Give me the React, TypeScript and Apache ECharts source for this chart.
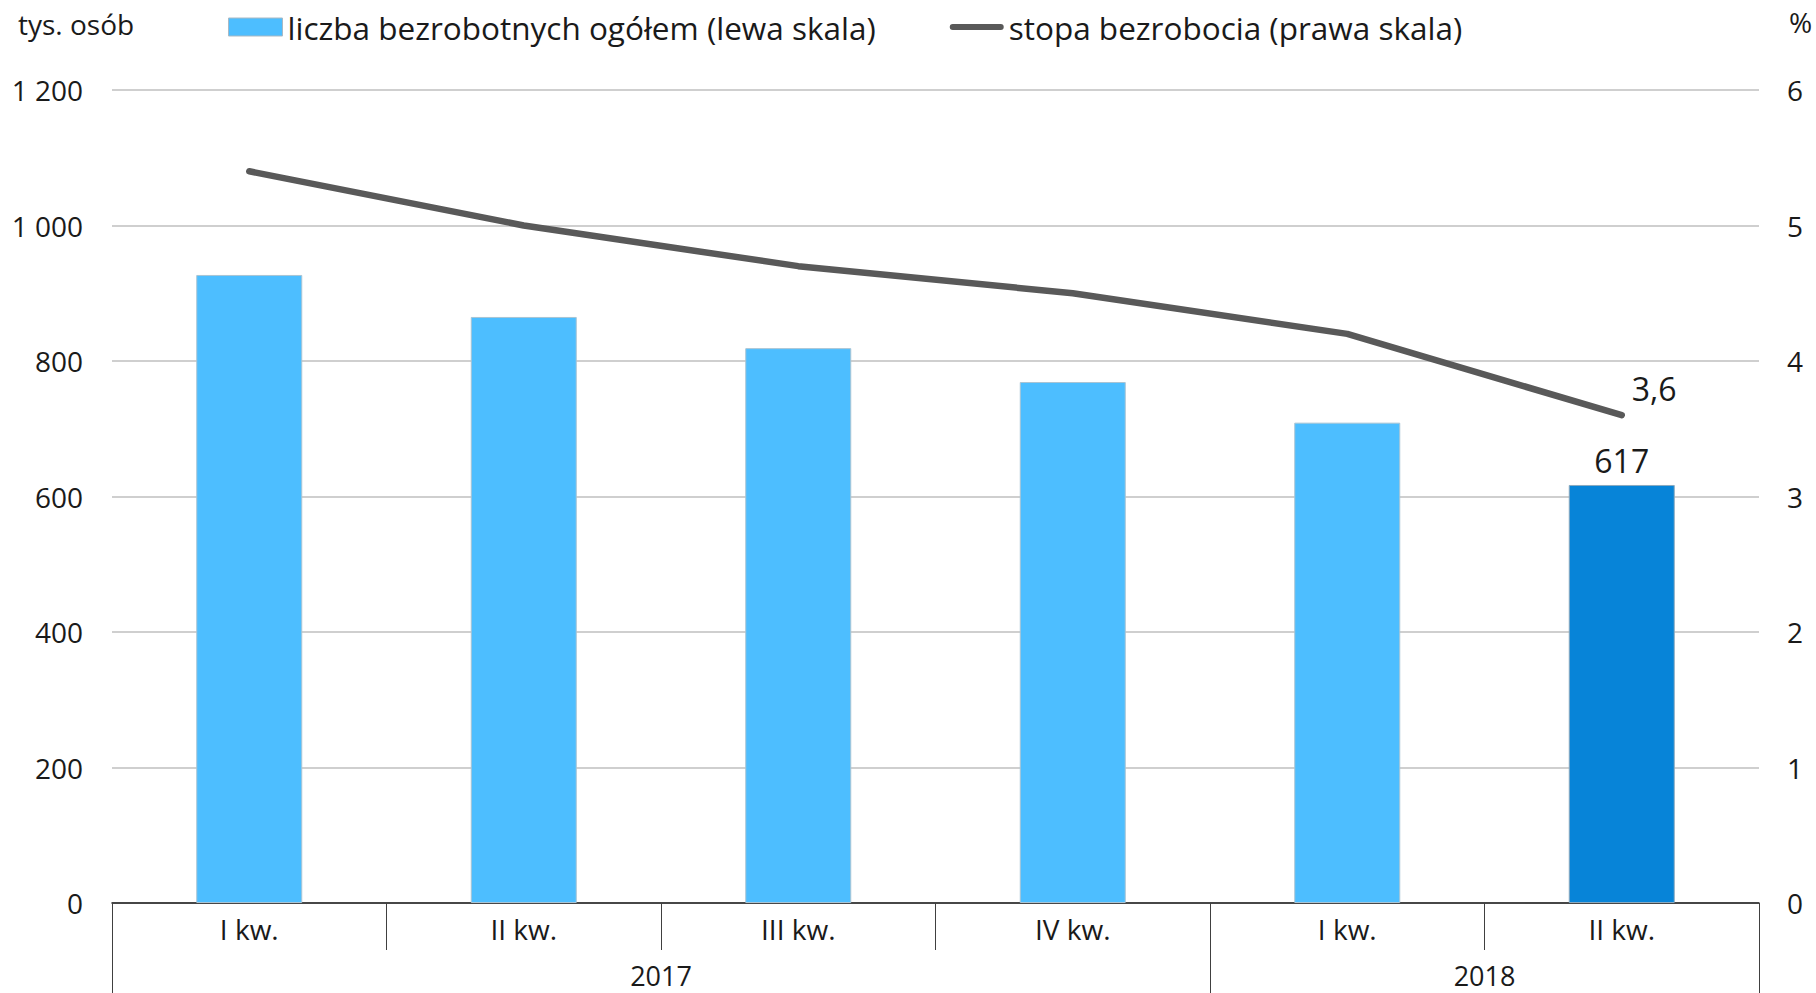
import React, { useEffect, useRef } from "react";
import * as echarts from "echarts";

const quarters = ["I kw.", "II kw.", "III kw.", "IV kw.", "I kw.", "II kw."];
const years = ["2017", "2018"];
const yearCenters = [2, 5];
const yearBounds = [0, 4, 6];
const unemployed = [927, 865, 819, 769, 709, 617];
const rate = [5.4, 5.0, 4.7, 4.5, 4.2, 3.6];
const leftTicks = { min: 0, max: 1200, interval: 200 };
const rightTicks = { min: 0, max: 6, interval: 1 };

const FONT = "'Open Sans', 'Noto Sans', sans-serif";
const TXT = "#1a1a1a";
const LINE_ICON = "path://M3,0 H51 A3,3 0 0 1 51,6 H3 A3,3 0 0 1 3,0 Z";

export default function App() {
  const ref = useRef<HTMLDivElement>(null);
  useEffect(() => {
    document.body.style.margin = "0";
    if (!ref.current) return;
    const chart = echarts.init(ref.current, null, { renderer: "svg" });
    chart.setOption({
      animation: false,
      textStyle: { fontFamily: FONT, color: TXT },
      grid: { left: 112, right: 57, top: 90, bottom: 90, containLabel: false },
      legend: {
        left: 223,
        top: 6,
        itemWidth: 54,
        itemHeight: 18,
        itemGap: 74,
        textStyle: { fontSize: 31.5, color: TXT, fontFamily: FONT },
        data: [
          { name: "liczba bezrobotnych ogółem (lewa skala)", icon: "rect", itemStyle: { borderColor: "#a9b9c4", borderWidth: 1 } },
          { name: "stopa bezrobocia (prawa skala)", icon: LINE_ICON, itemStyle: { color: "#595959", borderWidth: 0 } },
        ],
      },
      graphic: [
        { type: "text", left: 18, top: 10, style: { text: "tys. osób", fontSize: 28, fontFamily: FONT, fill: TXT } },
        { type: "text", left: 1789, top: 8, style: { text: "%", fontSize: 28, fontFamily: FONT, fill: TXT } },
      ],
      xAxis: [
        {
          type: "category",
          data: quarters,
          position: "bottom",
          axisLine: { show: true, lineStyle: { color: "#1a1a1a", width: 1.5 } },
          axisTick: { show: true, interval: 0, length: 47, lineStyle: { color: "#404040", width: 1 } },
          axisLabel: { fontSize: 28, color: TXT, margin: 12, fontFamily: FONT, interval: 0 },
          splitLine: { show: false },
        },
        {
          type: "value",
          min: 0,
          max: quarters.length,
          interval: 1,
          position: "bottom",
          axisLine: { show: false },
          axisTick: { show: true, customValues: yearBounds, length: 90, lineStyle: { color: "#404040", width: 1 } },
          axisLabel: {
            show: true,
            customValues: yearCenters,
            fontSize: 27,
            color: TXT,
            margin: 59,
            fontFamily: FONT,
            formatter: (v: number) => years[yearCenters.indexOf(v)] ?? "",
          },
          splitLine: { show: false },
        },
      ],
      yAxis: [
        {
          type: "value",
          ...leftTicks,
          axisLine: { show: false },
          axisTick: { show: false },
          axisLabel: {
            fontSize: 28,
            color: TXT,
            margin: 29,
            fontFamily: FONT,
            formatter: (v: number) => String(v).replace(/\B(?=(\d{3})+(?!\d))/g, " "),
          },
          splitLine: { show: true, lineStyle: { color: "#bfbfbf", width: 1.5 } },
        },
        {
          type: "value",
          ...rightTicks,
          position: "right",
          axisLine: { show: false },
          axisTick: { show: false },
          axisLabel: { fontSize: 28, color: TXT, margin: 28, fontFamily: FONT },
          splitLine: { show: false },
        },
      ],
      series: [
        {
          name: "liczba bezrobotnych ogółem (lewa skala)",
          type: "bar",
          xAxisIndex: 0,
          yAxisIndex: 0,
          barWidth: 106,
          itemStyle: { color: "#4dbeff", borderColor: "#a9c4d4", borderWidth: 1 },
          data: unemployed.map((v, i) =>
            i === unemployed.length - 1
              ? {
                  value: v,
                  itemStyle: { color: "#0784d8", borderColor: "#8aa9bf" },
                  label: { show: true, position: "top", distance: 8, fontSize: 32, color: TXT, fontFamily: FONT },
                }
              : v
          ),
        },
        {
          name: "stopa bezrobocia (prawa skala)",
          type: "line",
          xAxisIndex: 0,
          yAxisIndex: 1,
          symbol: "none",
          showSymbol: false,
          lineStyle: { color: "#595959", width: 6.5, cap: "round", join: "round" },
          itemStyle: { color: "#595959" },
          endLabel: {
            show: true,
            distance: 10,
            offset: [0, -27],
            fontSize: 32,
            color: TXT,
            fontFamily: FONT,
            formatter: (p: any) => String(p.value).replace(".", ","),
          },
          data: rate,
        },
      ],
    });
    return () => chart.dispose();
  }, []);
  return <div ref={ref} style={{ width: 1816, height: 993 }} />;
}
